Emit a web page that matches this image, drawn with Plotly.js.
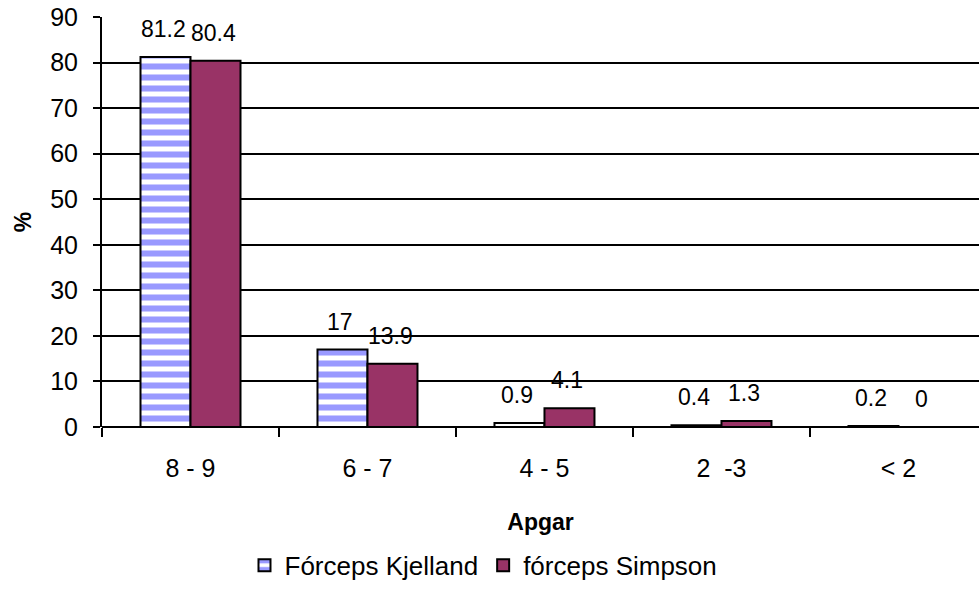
<!DOCTYPE html>
<html><head><meta charset="utf-8">
<script src="https://cdn.plot.ly/plotly-3.0.1.min.js"></script>
<style>body{margin:0;background:#fff}#c{width:979px;height:603px}</style>
</head><body><div id="c"></div>
<script>
const categories = ["8 - 9", "6 - 7", "4 - 5", "2  -3", "< 2"];
const kjelland = [81.2, 17, 0.9, 0.4, 0.2];
const simpson = [80.4, 13.9, 4.1, 1.3, 0];
const seriesNames = ["Fórceps Kjelland", "fórceps Simpson"];
const yTicks = [0, 10, 20, 30, 40, 50, 60, 70, 80, 90];

function F(size) { return {family: "Liberation Sans, Arial, sans-serif", size: size, color: "#000"}; }

const traces = [
  {type: "bar", name: seriesNames[0], x: categories, y: kjelland,
   marker: {color: "#ffffff", line: {color: "#000", width: 2},
            pattern: {shape: "-", fgcolor: "#9999ff", bgcolor: "#ffffff", size: 11, solidity: 0.55, fillmode: "replace"}}},
  {type: "bar", name: seriesNames[1], x: categories, y: simpson,
   marker: {color: "#993366", line: {color: "#000", width: 2}}}
];

const annotations = [];
categories.forEach((c, i) => {
  annotations.push({x: c, y: kjelland[i], xref: "x", yref: "y", text: String(kjelland[i]), showarrow: false,
    xshift: -27, yshift: 13, yanchor: "bottom", font: F(23)});
  annotations.push({x: c, y: simpson[i], xref: "x", yref: "y", text: String(simpson[i]), showarrow: false,
    xshift: 23, yshift: 13, yanchor: "bottom", font: F(23)});
});

const layout = {
  width: 979, height: 603,
  margin: {l: 102, r: 0, t: 17, b: 176},
  paper_bgcolor: "#fff", plot_bgcolor: "#fff",
  font: F(23),
  barmode: "group", bargap: 0.435, bargroupgap: 0,
  xaxis: {type: "category", range: [-0.5, 4.455], showgrid: false, showline: false, zeroline: false,
    ticks: "outside", tickson: "boundaries", ticklen: 9, tickwidth: 2, tickcolor: "#000",
    ticklabelstandoff: 24, tickfont: F(25),
    title: {text: "<b>Apgar</b>", font: F(23), standoff: 32}},
  yaxis: {range: [0, 90], tickvals: yTicks, showgrid: true, gridcolor: "#000", gridwidth: 2,
    showline: true, linecolor: "#000", linewidth: 2, zeroline: true, zerolinecolor: "#000", zerolinewidth: 2,
    ticks: "outside", ticklen: 7, tickwidth: 2, tickcolor: "#000", ticklabelstandoff: 10, tickfont: F(25),
    title: {text: "<b>%</b>", font: F(23), standoff: 12}},
  legend: {orientation: "h", x: 0.435, xanchor: "center", y: -0.28, yanchor: "top", font: F(26),
    itemwidth: 30, tracegroupgap: 0},
  annotations: annotations,
  showlegend: true
};

Plotly.newPlot("c", traces, layout, {staticPlot: true});
</script></body></html>
